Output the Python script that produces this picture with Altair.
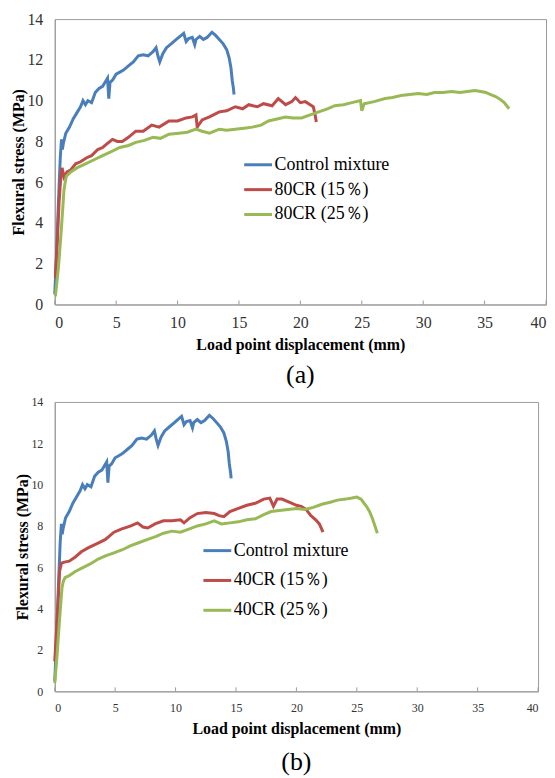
import altair as alt
import pandas as pd

x_ticks = [0, 5, 10, 15, 20, 25, 30, 35, 40]
y_ticks = [0, 2, 4, 6, 8, 10, 12, 14]

names_a = ["Control mixture", "80CR (15％)", "80CR (25％)"]
names_b = ["Control mixture", "40CR (15％)", "40CR (25％)"]
colors = ["#4A7EBB", "#BE4B48", "#98B954"]

ctrl_x = [0.0, 0.15, 0.3, 0.45, 0.55, 0.62, 0.7, 0.9, 1.2, 1.5, 1.8, 2.1, 2.3, 2.5, 2.7, 3.0, 3.3,
          3.6, 3.9, 4.1, 4.3, 4.4, 4.5, 4.7, 5.0, 5.3, 5.6, 6.0, 6.4, 6.8, 7.2, 7.6, 8.0, 8.25, 8.4,
          8.55, 8.8, 9.1, 9.5, 9.9, 10.3, 10.5, 10.7, 10.9, 11.2, 11.4, 11.5, 11.8, 12.1, 12.4, 12.8,
          13.1, 13.4, 13.7, 14.0, 14.2, 14.35, 14.45, 14.55, 14.6]
ctrl_y = [0.5, 2.5, 5.0, 7.2, 8.1, 7.6, 7.9, 8.4, 8.7, 9.1, 9.4, 9.7, 10.0, 9.8, 10.0, 9.9, 10.4,
          10.6, 10.7, 10.9, 11.1, 10.1, 10.9, 11.0, 11.3, 11.4, 11.5, 11.7, 11.9, 12.2, 12.25, 12.2,
          12.4, 12.6, 12.2, 11.9, 12.3, 12.6, 12.8, 13.0, 13.2, 13.3, 12.9, 13.05, 13.1, 12.75, 13.0,
          13.15, 13.0, 13.1, 13.35, 13.2, 13.0, 12.8, 12.5, 12.1, 11.6, 11.0, 10.6, 10.3]

r80_x = [0.05, 0.2, 0.35, 0.5, 0.6, 0.75, 1.0, 1.3, 1.7, 2.1, 2.6, 3.0, 3.5, 3.9, 4.3, 4.7, 5.1, 5.5,
         6.0, 6.6, 7.2, 7.9, 8.5, 9.3, 10.0, 10.7, 11.2, 11.5, 11.6, 12.0, 12.6, 13.4, 14.0, 14.7,
         15.3, 15.8, 16.5, 17.0, 17.7, 18.2, 18.8, 19.3, 19.6, 20.0, 20.4, 20.8, 21.05, 21.2, 21.3]
r80_y = [1.3, 3.0, 5.0, 6.3, 6.7, 6.25, 6.5, 6.6, 6.9, 7.0, 7.2, 7.3, 7.6, 7.7, 7.9, 8.1, 8.0, 8.0,
         8.2, 8.5, 8.5, 8.8, 8.7, 9.0, 9.0, 9.15, 9.2, 9.3, 8.7, 9.05, 9.2, 9.45, 9.5, 9.7, 9.6, 9.8,
         9.7, 9.85, 9.75, 10.1, 9.8, 9.95, 10.15, 9.9, 9.95, 9.8, 9.7, 9.3, 8.95]

g80_x = [0.05, 0.3, 0.55, 0.75, 0.85, 0.95, 1.3, 1.8, 2.5, 3.2, 3.9, 4.6, 5.3, 6.0, 6.6, 7.3, 8.0,
         8.6, 9.3, 10.1, 10.8, 11.5, 12.0, 12.6, 13.4, 14.0, 14.7, 15.4, 16.1, 16.8, 17.4, 18.1, 18.8,
         19.4, 20.1, 20.8, 21.5, 22.2, 22.8, 23.5, 24.2, 24.9, 25.0, 25.2, 26.0, 26.9, 27.5, 28.2,
         28.9, 29.6, 30.3, 30.9, 31.6, 32.3, 33.0, 33.6, 34.2, 34.7, 35.1, 35.5, 35.9, 36.3, 36.6,
         36.8, 37.0]
g80_y = [0.4, 1.8, 3.8, 5.6, 6.0, 6.3, 6.5, 6.7, 6.9, 7.1, 7.3, 7.5, 7.7, 7.8, 7.95, 8.05, 8.2,
         8.15, 8.35, 8.4, 8.45, 8.6, 8.5, 8.4, 8.6, 8.55, 8.6, 8.65, 8.7, 8.8, 9.0, 9.1, 9.2, 9.15,
         9.15, 9.3, 9.45, 9.6, 9.75, 9.8, 9.9, 10.0, 9.5, 9.85, 9.95, 10.1, 10.15, 10.25, 10.3,
         10.35, 10.3, 10.4, 10.4, 10.45, 10.4, 10.45, 10.5, 10.45, 10.4, 10.3, 10.2, 10.05, 9.9,
         9.75, 9.6]

r40_x = [0.0, 0.15, 0.3, 0.4, 0.55, 0.8, 1.2, 1.7, 2.2, 2.8, 3.5, 4.2, 4.9, 5.5, 6.3, 6.85, 7.3,
         7.7, 8.3, 9.0, 9.7, 10.4, 10.7, 11.2, 11.8, 12.5, 13.2, 13.6, 14.0, 14.5, 15.2, 15.9, 16.6,
         17.3, 17.8, 18.1, 18.4, 18.8, 19.2, 19.6, 20.0, 20.4, 20.8, 21.2, 21.6, 21.9, 22.2]
r40_y = [1.45, 3.0, 4.6, 5.8, 6.2, 6.25, 6.3, 6.5, 6.75, 6.95, 7.15, 7.35, 7.7, 7.85, 8.0, 8.15,
         7.95, 7.9, 8.1, 8.25, 8.25, 8.3, 8.15, 8.4, 8.6, 8.65, 8.6, 8.5, 8.45, 8.7, 8.85, 9.0, 9.1,
         9.3, 9.35, 8.95, 9.3, 9.3, 9.2, 9.1, 9.0, 8.95, 8.8, 8.5, 8.3, 8.1, 7.7]

g40_x = [0.0, 0.2, 0.4, 0.6, 0.7, 0.85, 1.2, 1.7, 2.2, 2.9, 3.6, 4.2, 4.9, 5.6, 6.3, 7.0, 7.7, 8.4,
         9.0, 9.7, 10.4, 11.1, 11.8, 12.5, 13.2, 13.8, 14.5, 15.2, 15.9, 16.6, 17.3, 17.9, 18.6,
         19.3, 20.0, 20.7, 21.4, 22.1, 22.8, 23.4, 24.1, 24.6, 25.0, 25.35, 25.6, 25.8, 26.05, 26.3,
         26.5, 26.7]
g40_y = [0.4, 1.8, 3.5, 5.0, 5.3, 5.5, 5.6, 5.8, 5.95, 6.15, 6.4, 6.55, 6.7, 6.85, 7.05, 7.2,
         7.35, 7.5, 7.65, 7.75, 7.7, 7.85, 8.0, 8.1, 8.25, 8.1, 8.15, 8.2, 8.3, 8.35, 8.55, 8.7,
         8.75, 8.8, 8.85, 8.8, 8.9, 9.05, 9.15, 9.25, 9.3, 9.35, 9.4, 9.3, 9.1, 8.95, 8.7, 8.35,
         8.0, 7.65]

SERIF = "Liberation Serif"


def make_df(names, xs, ys):
    rows = []
    for name, xv, yv in zip(names, xs, ys):
        for i, (a, b) in enumerate(zip(xv, yv)):
            rows.append({"series": name, "x": a, "y": b, "i": i})
    return pd.DataFrame(rows)


def panel(names, xs, ys, tag, W, H, lab_size, leg_x, leg_y, row_pad, lab_pad, title_pad,
          tag_off):
    df = make_df(names, xs, ys)
    xax = alt.Axis(values=x_ticks, title="Load point displacement (mm)", grid=False,
                   ticks=False, labelPadding=lab_pad, labelFontSize=lab_size,
                   titlePadding=title_pad)
    yax = alt.Axis(values=y_ticks, title="Flexural stress (MPa)", grid=False,
                   ticks=False, labelPadding=12, labelFontSize=lab_size, titlePadding=0)
    lines = alt.Chart(df).mark_line(strokeWidth=3).encode(
        x=alt.X("x:Q", scale=alt.Scale(domain=[0, 40], nice=False), axis=xax),
        y=alt.Y("y:Q", scale=alt.Scale(domain=[0, 14], nice=False), axis=yax),
        color=alt.Color("series:N", sort=names,
                        scale=alt.Scale(domain=names, range=colors),
                        legend=alt.Legend(title=None, orient="none", legendX=leg_x,
                                          legendY=leg_y, symbolType="stroke",
                                          symbolSize=784, symbolStrokeWidth=3,
                                          labelFont=SERIF, labelFontSize=18,
                                          labelColor="#000000", labelOffset=1,
                                          rowPadding=row_pad, padding=0)),
        detail="series:N",
        order=alt.Order("i:Q"),
    )
    ticks = alt.Chart(pd.DataFrame({"t": x_ticks})).mark_rule(
        color="#9a9a9a", strokeWidth=1).encode(
        x=alt.X("t:Q"), y=alt.value(H), y2=alt.value(H - 4))
    return alt.layer(ticks, lines).properties(
        width=W, height=H,
        title=alt.TitleParams(tag, orient="bottom", font=SERIF, fontSize=26,
                              fontWeight="normal", color="#000000", offset=tag_off,
                              anchor="middle"))


top = panel(names_a, [ctrl_x, r80_x, g80_x], [ctrl_y, r80_y, g80_y], "(a)",
            494, 287, 16, 189, 131, -1, 10, 6, 10)
bottom = panel(names_b, [ctrl_x, r40_x, g40_x], [ctrl_y, r40_y, g40_y], "(b)",
               486, 291, 12, 148, 134, 5, 11, 7, 13)

chart = alt.concat(top, bottom, columns=1, spacing=6).resolve_scale(
    color="independent", x="independent", y="independent"
).properties(
    padding={"left": 2, "top": 0, "right": 0, "bottom": 0}
).configure_axis(
    labelFont=SERIF, labelColor="#333333", titleFont=SERIF, titleFontSize=16,
    titleFontWeight="bold", titleColor="#000000", domainColor="#9a9a9a", domainWidth=1
).configure_view(
    stroke="#9a9a9a", strokeWidth=1
)

chart.save("out.html", embed_options={"renderer": "svg", "actions": False})
